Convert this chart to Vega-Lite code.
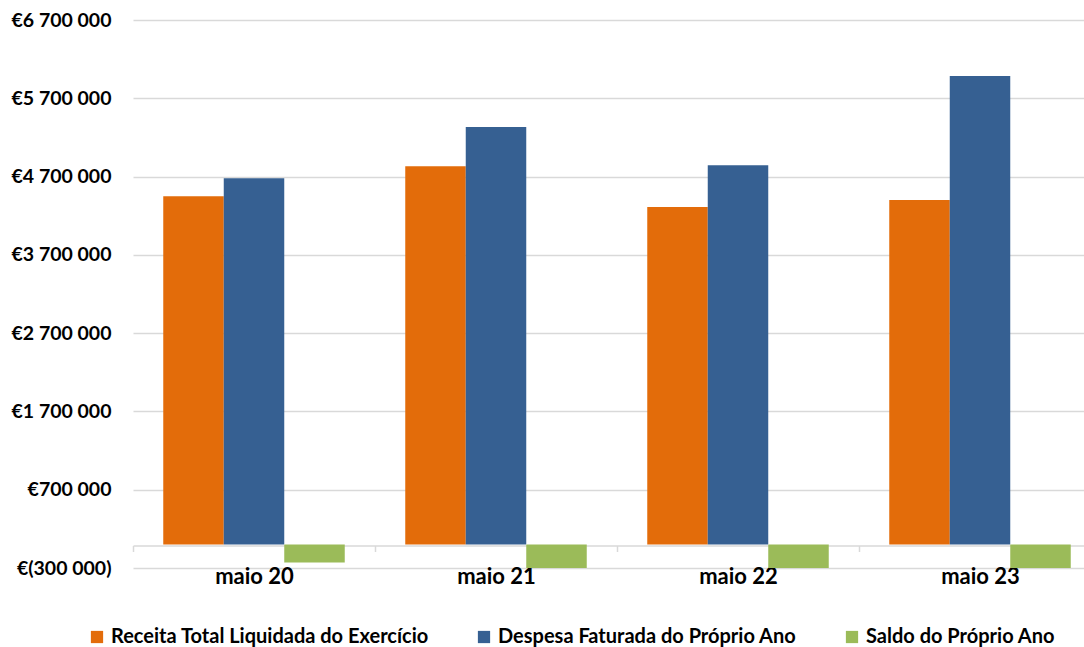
{
  "$schema": "https://vega.github.io/schema/vega-lite/v6.json",
  "width": 951,
  "height": 548,
  "autosize": {"type": "none"},
  "padding": {"left": 133, "top": 20, "right": 0, "bottom": 79},
  "config": {"view": {"stroke": null}, "font": "Lato"},
  "data": {
    "values": [
      {"mes": "maio 20", "serie": "Receita Total Liquidada do Exercício", "valor": 4448000},
      {"mes": "maio 20", "serie": "Despesa Faturada do Próprio Ano", "valor": 4678000},
      {"mes": "maio 20", "serie": "Saldo do Próprio Ano", "valor": -230000},
      {"mes": "maio 21", "serie": "Receita Total Liquidada do Exercício", "valor": 4832000},
      {"mes": "maio 21", "serie": "Despesa Faturada do Próprio Ano", "valor": 5332000},
      {"mes": "maio 21", "serie": "Saldo do Próprio Ano", "valor": -500000},
      {"mes": "maio 22", "serie": "Receita Total Liquidada do Exercício", "valor": 4310000},
      {"mes": "maio 22", "serie": "Despesa Faturada do Próprio Ano", "valor": 4845000},
      {"mes": "maio 22", "serie": "Saldo do Próprio Ano", "valor": -535000},
      {"mes": "maio 23", "serie": "Receita Total Liquidada do Exercício", "valor": 4400000},
      {"mes": "maio 23", "serie": "Despesa Faturada do Próprio Ano", "valor": 5986000},
      {"mes": "maio 23", "serie": "Saldo do Próprio Ano", "valor": -1586000}
    ]
  },
  "mark": {"type": "bar", "clip": true},
  "encoding": {
    "x": {
      "field": "mes",
      "type": "nominal",
      "sort": null,
      "scale": {"range": [0, 968], "paddingInner": 0, "paddingOuter": 0},
      "axis": {
        "title": null,
        "labelAngle": 0,
        "offset": -22.5,
        "domainColor": "#d9d9d9",
        "domainWidth": 1.5,
        "tickBand": "extent",
        "tickColor": "#d9d9d9",
        "tickWidth": 1.5,
        "tickSize": 6,
        "labelPadding": 15,
        "labelFont": "Lato",
        "labelFontWeight": "bold",
        "labelFontSize": 22,
        "labelColor": "#000000",
        "labelBaseline": "top"
      }
    },
    "xOffset": {
      "field": "serie",
      "sort": ["Receita Total Liquidada do Exercício", "Despesa Faturada do Próprio Ano", "Saldo do Próprio Ano"],
      "scale": {"paddingInner": 0, "paddingOuter": 0.5}
    },
    "y": {
      "field": "valor",
      "type": "quantitative",
      "scale": {"domain": [-300000, 6700000], "nice": false, "zero": false},
      "axis": {
        "title": null,
        "values": [-300000, 700000, 1700000, 2700000, 3700000, 4700000, 5700000, 6700000],
        "labelExpr": "datum.value < 0 ? '€(' + replace(format(-datum.value, ',.0f'), regexp(',', 'g'), ' ') + ')' : '€' + replace(format(datum.value, ',.0f'), regexp(',', 'g'), ' ')",
        "grid": true,
        "gridColor": "#d9d9d9",
        "gridWidth": 1.5,
        "domain": false,
        "ticks": false,
        "labelPadding": 22,
        "labelFont": "Lato",
        "labelFontWeight": "bold",
        "labelFontSize": 19.5,
        "labelColor": "#000000"
      }
    },
    "color": {
      "field": "serie",
      "type": "nominal",
      "sort": ["Receita Total Liquidada do Exercício", "Despesa Faturada do Próprio Ano", "Saldo do Próprio Ano"],
      "scale": {
        "domain": ["Receita Total Liquidada do Exercício", "Despesa Faturada do Próprio Ano", "Saldo do Próprio Ano"],
        "range": ["#E36C0A", "#366092", "#9BBB59"]
      },
      "legend": {
        "title": null,
        "orient": "none",
        "legendX": -46,
        "legendY": 607,
        "padding": 0,
        "direction": "horizontal",
        "symbolType": "square",
        "symbolSize": 150,
        "symbolStrokeWidth": 0,
        "labelFont": "Lato",
        "labelFontWeight": "bold",
        "labelFontSize": 20,
        "labelColor": "#000000",
        "labelLimit": 600,
        "columnPadding": 45
      }
    }
  }
}
